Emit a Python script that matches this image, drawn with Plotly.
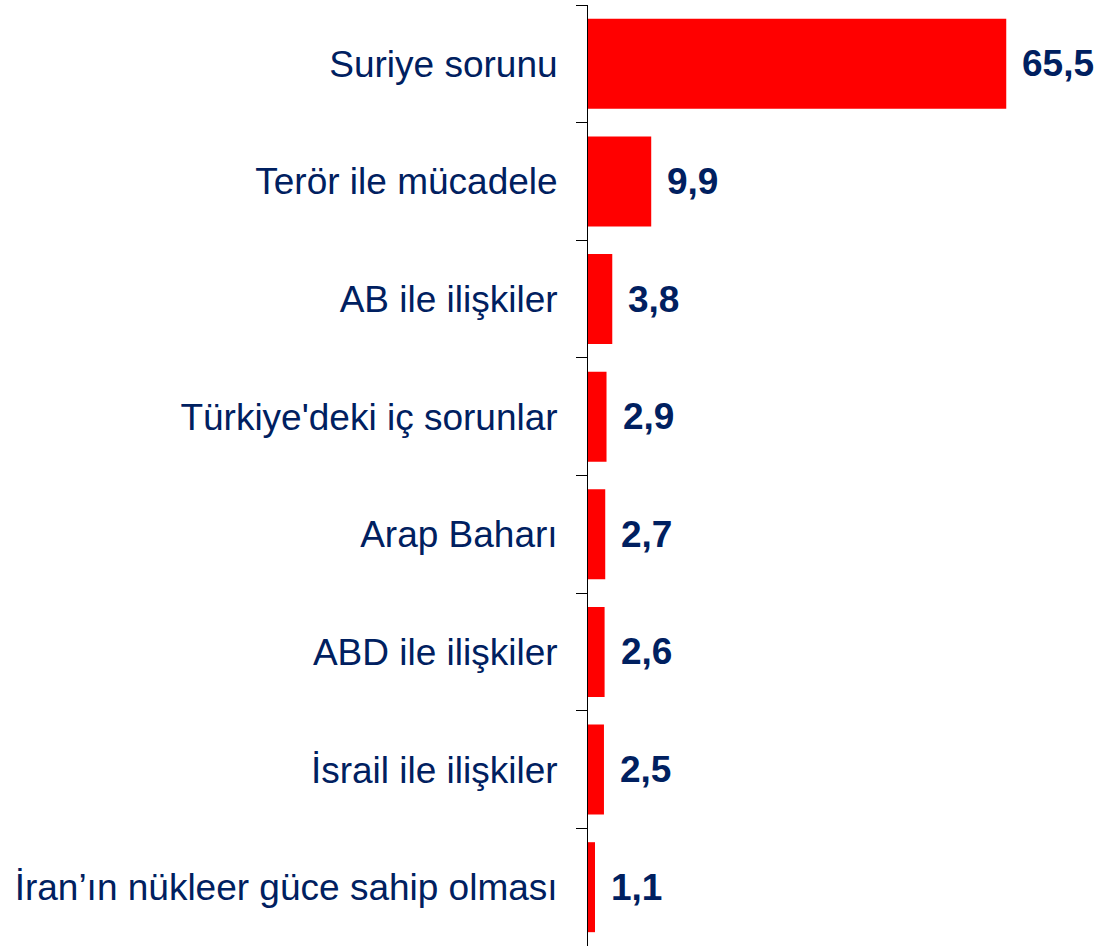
import plotly.graph_objects as go

categories = [
    "Suriye sorunu",
    "Terör ile mücadele",
    "AB ile ilişkiler",
    "Türkiye'deki iç sorunlar",
    "Arap Baharı",
    "ABD ile ilişkiler",
    "İsrail ile ilişkiler",
    "İran’ın nükleer güce sahip olması",
]
values = [65.5, 9.9, 3.8, 2.9, 2.7, 2.6, 2.5, 1.1]
value_labels = ["65,5", "9,9", "3,8", "2,9", "2,7", "2,6", "2,5", "1,1"]

navy = "#002060"
font_family = "Liberation Sans, Arial, sans-serif"

fig = go.Figure()
fig.add_trace(go.Bar(
    x=values,
    y=categories,
    orientation="h",
    marker=dict(color="#FF0000", line=dict(width=0)),
    hoverinfo="skip",
))

for cat, val, lab in zip(categories, values, value_labels):
    fig.add_annotation(
        x=val, y=cat, xref="x", yref="y",
        text=lab, showarrow=False,
        xanchor="left", yanchor="middle", xshift=14,
        font=dict(family=font_family, size=37, color=navy, weight="bold"),
    )

fig.update_layout(
    width=1099, height=949,
    margin=dict(l=588, r=34, t=5, b=3),
    paper_bgcolor="white", plot_bgcolor="white",
    bargap=0.235,
    showlegend=False,
    font=dict(family=font_family, color=navy),
)
fig.update_xaxes(
    range=[0, 74.7], visible=False, showgrid=False, zeroline=False,
)
fig.update_yaxes(
    autorange="reversed",
    showline=True, linecolor="black", linewidth=1,
    ticks="outside", tickson="boundaries", ticklen=11, tickcolor="black", tickwidth=1,
    showgrid=False,
    tickfont=dict(family=font_family, size=37, color=navy),
    ticklabelstandoff=22,
)

fig.write_html(
    "out.html",
    config={"displayModeBar": False, "staticPlot": True},
    post_script="document.body.style.margin='0';document.body.style.overflow='hidden';",
)
